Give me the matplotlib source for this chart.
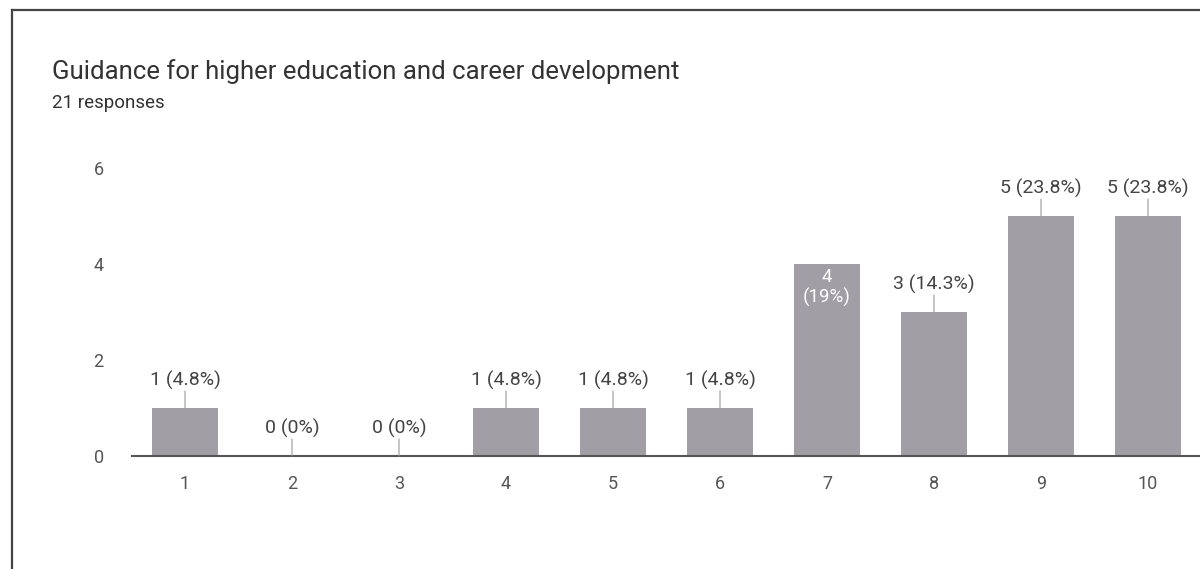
import matplotlib.pyplot as plt
from matplotlib.lines import Line2D

plt.rcParams['font.family'] = ['Roboto', 'DejaVu Sans']

title = 'Guidance for higher education and career development'
subtitle = '21 responses'
categories = [1, 2, 3, 4, 5, 6, 7, 8, 9, 10]
counts = [1, 0, 0, 1, 1, 1, 4, 3, 5, 5]
percents = ['4.8%', '0%', '0%', '4.8%', '4.8%', '4.8%', '19%', '14.3%', '23.8%', '23.8%']
inside = [False, False, False, False, False, False, True, False, False, False]

W, H = 1200, 569
fig = plt.figure(figsize=(W / 100, H / 100), dpi=100)

# page frame from the scan
fig.add_artist(Line2D([12 / W, 12 / W], [0, 1 - 10 / H], color='#444444', lw=1.6))
fig.add_artist(Line2D([12 / W, 1], [1 - 10 / H, 1 - 10 / H], color='#444444', lw=1.6))

fig.text(52 / W, 1 - 72 / H, title, fontsize=18.5, color='#333333', va='center')
fig.text(52 / W, 1 - 103 / H, subtitle, fontsize=13.5, color='#333333', va='center')

# axes placed so that x from 0.5..10.5 and y 0..6.5 land where the scan has them
left, right = 131.5, 1201.5
y0, ytop = 456, 456 - 6.5 * 48
ax = fig.add_axes([left / W, 1 - y0 / H, (right - left) / W, (y0 - ytop) / H])
ax.set_xlim(0.5, 10.5)
ax.set_ylim(0, 6.5)

bar_color = '#a29ea6'
ax.bar(categories, counts, width=0.62, color=bar_color, zorder=2)

for x, c, p, ins in zip(categories, counts, percents, inside):
    if ins:
        ax.annotate(f'{c}\n({p})', (x, c), xytext=(0, -4), textcoords='offset pixels',
                    ha='center', va='top', color='white', fontsize=13.5, linespacing=1.15)
    else:
        ax.annotate('', (x, c), xytext=(0, 17), textcoords='offset pixels',
                    arrowprops=dict(arrowstyle='-', color='#999999', lw=0.8, shrinkA=0, shrinkB=0))
        ax.annotate(f'{c} ({p})', (x, c), xytext=(0, 28), textcoords='offset pixels',
                    ha='center', va='center', color='#444444', fontsize=14)

ax.set_xticks(categories)
ax.set_yticks([0, 2, 4, 6])
ax.tick_params(length=0, labelsize=13, labelcolor='#555555')
ax.tick_params(axis='x', pad=14)
ax.tick_params(axis='y', pad=20)
for s in ['top', 'right', 'left']:
    ax.spines[s].set_visible(False)
ax.spines['bottom'].set_color('#555555')
ax.spines['bottom'].set_linewidth(1.5)
ax.patch.set_alpha(0)

fig.savefig('out.png', dpi=100)
